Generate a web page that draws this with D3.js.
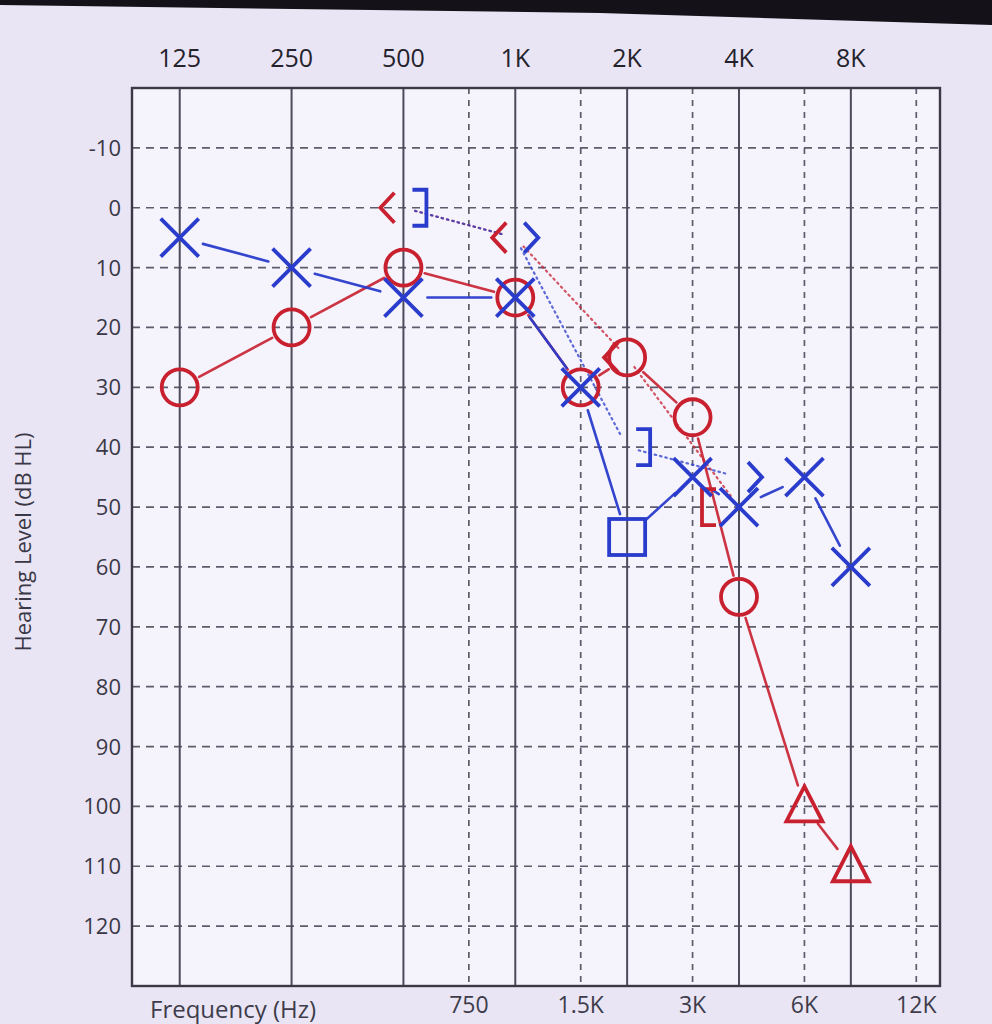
<!DOCTYPE html>
<html>
<head>
<meta charset="utf-8">
<script src="https://cdn.jsdelivr.net/npm/d3@7"></script>
<style>
  html, body { margin: 0; padding: 0; background: #e8e4f4; }
  svg { display: block; }
</style>
</head>
<body>
<svg id="chart" width="992" height="1024"></svg>
<script>
// ---------- DATA ----------
const topTickFreqs   = [125, 250, 500, 1000, 2000, 4000, 8000];
const topTickLabels  = ["125", "250", "500", "1K", "2K", "4K", "8K"];
const midTickFreqs   = [750, 1500, 3000, 6000, 12000];
const midTickLabels  = ["750", "1.5K", "3K", "6K", "12K"];
const dbTicks        = [-10, 0, 10, 20, 30, 40, 50, 60, 70, 80, 90, 100, 110, 120];

// Right ear, air conduction (red): circles, masked = triangles
const rightAirFreq = [125, 250, 500, 1000, 1500, 2000, 3000, 4000, 6000, 8000];
const rightAirDb   = [30, 20, 10, 15, 30, 25, 35, 65, 100, 110];
const rightAirSym  = ["O", "O", "O", "O", "O", "O", "O", "O", "T", "T"];

// Left ear, air conduction (blue): crosses, masked = square
const leftAirFreq = [125, 250, 500, 1000, 1500, 2000, 3000, 4000, 6000, 8000];
const leftAirDb   = [5, 10, 15, 15, 30, 55, 45, 50, 45, 60];
const leftAirSym  = ["X", "X", "X", "X", "X", "S", "X", "X", "X", "X"];

// Bone conduction
const rightBoneFreq = [500, 1000, 2000, 4000];
const rightBoneDb   = [0, 5, 25, 50];
const rightBoneSym  = ["<", "<", "<", "["];

const leftBoneFreq = [500, 1000, 2000, 4000];
const leftBoneDb   = [0, 5, 40, 45];
const leftBoneSym  = ["]", ">", "]", ">"];

// ---------- LAYOUT ----------
const RED = "#c8202f", BLUE = "#2a3ccc";
const svg = d3.select("#chart");
const pL = 132, pR = 940, pT = 88, pB = 986;

const x = d3.scaleLog().domain([93, 13900]).range([pL, pR]);
const y = d3.scaleLinear().domain([-20, 130]).range([pT, pB]);

// photo-like background
svg.append("rect").attr("x", 0).attr("y", 0).attr("width", 992).attr("height", 1024).attr("fill", "#e9e5f5");
svg.append("path").attr("d", "M0,0 L992,0 L992,25 L600,13 L0,5 Z").attr("fill", "#141218");

// plot area
svg.append("rect").attr("x", pL).attr("y", pT).attr("width", pR - pL).attr("height", pB - pT)
  .attr("fill", "#f5f3fc");

// horizontal dashed gridlines
svg.append("g").selectAll("line").data(dbTicks).join("line")
  .attr("x1", pL).attr("x2", pR)
  .attr("y1", d => y(d)).attr("y2", d => y(d))
  .attr("stroke", "#5e5b6c").attr("stroke-width", 1.7).attr("stroke-dasharray", "8,6");

// vertical solid (octaves)
svg.append("g").selectAll("line").data(topTickFreqs).join("line")
  .attr("x1", d => x(d)).attr("x2", d => x(d))
  .attr("y1", pT).attr("y2", pB)
  .attr("stroke", "#4d4a5a").attr("stroke-width", 2);

// vertical dashed (inter-octaves)
svg.append("g").selectAll("line").data(midTickFreqs).join("line")
  .attr("x1", d => x(d)).attr("x2", d => x(d))
  .attr("y1", pT).attr("y2", pB)
  .attr("stroke", "#5e5b6c").attr("stroke-width", 1.7).attr("stroke-dasharray", "6,6");

// border
svg.append("rect").attr("x", pL).attr("y", pT).attr("width", pR - pL).attr("height", pB - pT)
  .attr("fill", "none").attr("stroke", "#3c3946").attr("stroke-width", 2.4);

// ---------- TEXT ----------
const fontFam = "'Open Sans', 'DejaVu Sans', sans-serif";
svg.append("g").selectAll("text").data(topTickFreqs).join("text")
  .attr("x", d => x(d)).attr("y", 67)
  .attr("text-anchor", "middle").attr("font-family", fontFam).attr("font-size", 25)
  .attr("fill", "#24222b")
  .text((d, i) => topTickLabels[i]);

svg.append("g").selectAll("text").data(midTickFreqs).join("text")
  .attr("x", d => x(d)).attr("y", 1013)
  .attr("text-anchor", "middle").attr("font-family", fontFam).attr("font-size", 23)
  .attr("fill", "#3e3c4a")
  .text((d, i) => midTickLabels[i]);

svg.append("text").attr("x", 150).attr("y", 1018)
  .attr("font-family", fontFam).attr("font-size", 24).attr("fill", "#3e3c4a")
  .text("Frequency (Hz)");

svg.append("g").selectAll("text").data(dbTicks).join("text")
  .attr("x", 121).attr("y", d => y(d) + 8)
  .attr("text-anchor", "end").attr("font-family", fontFam).attr("font-size", 22)
  .attr("fill", "#3a3846")
  .text(d => d);

svg.append("text")
  .attr("transform", "translate(31,542) rotate(-90)")
  .attr("text-anchor", "middle").attr("font-family", fontFam).attr("font-size", 22)
  .attr("fill", "#3a3846")
  .text("Hearing Level (dB HL)");

// ---------- LINES ----------
function pts(freqs, dbs) { return freqs.map((f, i) => [x(f), y(dbs[i])]); }

function gapSegments(g, points, color, gap, width, dash, opacity) {
  for (let i = 0; i < points.length - 1; i++) {
    const [x1, y1] = points[i], [x2, y2] = points[i + 1];
    const dx = x2 - x1, dy = y2 - y1, len = Math.hypot(dx, dy);
    if (len <= 2 * gap) continue;
    const ux = dx / len, uy = dy / len;
    g.append("line")
      .attr("x1", x1 + ux * gap).attr("y1", y1 + uy * gap)
      .attr("x2", x2 - ux * gap).attr("y2", y2 - uy * gap)
      .attr("stroke", color).attr("stroke-width", width)
      .attr("stroke-dasharray", dash).attr("stroke-linecap", "round")
      .attr("opacity", opacity);
  }
}

const lines = svg.append("g");
// bone conduction dotted
gapSegments(lines, pts(rightBoneFreq, rightBoneDb), RED, 12, 2.2, "1.5,4", 0.75);
gapSegments(lines, pts(leftBoneFreq, leftBoneDb), BLUE, 12, 2.2, "1.5,4", 0.75);
// air conduction solid
gapSegments(lines, pts(rightAirFreq, rightAirDb), RED, 22, 2.6, null, 0.9);
gapSegments(lines, pts(leftAirFreq, leftAirDb), BLUE, 24, 2.6, null, 0.95);

// ---------- MARKERS ----------
const marks = svg.append("g").attr("fill", "none").attr("stroke-width", 3.8)
  .attr("stroke-linejoin", "miter").attr("stroke-linecap", "butt");

function drawAir(freqs, dbs, syms, color) {
  freqs.forEach((f, i) => {
    const cx = x(f), cy = y(dbs[i]), s = syms[i];
    if (s === "O") {
      marks.append("circle").attr("cx", cx).attr("cy", cy).attr("r", 18).attr("stroke", color);
    } else if (s === "X") {
      marks.append("path").attr("stroke", color)
        .attr("d", `M${cx - 19},${cy - 19}L${cx + 19},${cy + 19}M${cx + 19},${cy - 19}L${cx - 19},${cy + 19}`);
    } else if (s === "S") {
      marks.append("rect").attr("x", cx - 18).attr("y", cy - 18).attr("width", 36).attr("height", 36).attr("stroke", color);
    } else if (s === "T") {
      marks.append("path").attr("stroke", color)
        .attr("d", `M${cx},${cy - 20}L${cx + 18},${cy + 15}L${cx - 18},${cy + 15}Z`);
    }
  });
}

function drawBone(freqs, dbs, syms, color) {
  freqs.forEach((f, i) => {
    const lx = x(f), cy = y(dbs[i]), s = syms[i];
    let d;
    if (s === "<") { const cx = lx - 16; d = `M${cx + 7},${cy - 15}L${cx - 7},${cy}L${cx + 7},${cy + 15}`; }
    else if (s === ">") { const cx = lx + 16; d = `M${cx - 7},${cy - 15}L${cx + 7},${cy}L${cx - 7},${cy + 15}`; }
    else if (s === "]") { const cx = lx + 16; d = `M${cx - 7},${cy - 18}L${cx + 7},${cy - 18}L${cx + 7},${cy + 18}L${cx - 7},${cy + 18}`; }
    else if (s === "[") { const cx = lx - 30; d = `M${cx + 7},${cy - 18}L${cx - 7},${cy - 18}L${cx - 7},${cy + 18}L${cx + 7},${cy + 18}`; }
    marks.append("path").attr("stroke", color).attr("d", d);
  });
}

drawBone(rightBoneFreq, rightBoneDb, rightBoneSym, RED);
drawBone(leftBoneFreq, leftBoneDb, leftBoneSym, BLUE);
drawAir(rightAirFreq, rightAirDb, rightAirSym, RED);
drawAir(leftAirFreq, leftAirDb, leftAirSym, BLUE);
</script>
</body>
</html>
